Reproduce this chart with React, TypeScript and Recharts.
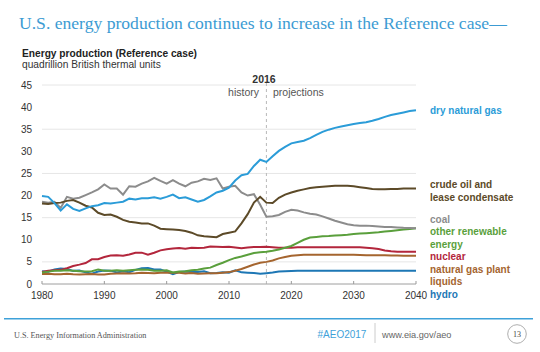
import React from 'react';
import { LineChart, Line, XAxis, YAxis, CartesianGrid, ReferenceLine } from 'recharts';

const years = [
  1980, 1981, 1982, 1983, 1984, 1985, 1986, 1987, 1988, 1989,
  1990, 1991, 1992, 1993, 1994, 1995, 1996, 1997, 1998, 1999,
  2000, 2001, 2002, 2003, 2004, 2005, 2006, 2007, 2008, 2009,
  2010, 2011, 2012, 2013, 2014, 2015, 2016, 2017, 2018, 2019,
  2020, 2021, 2022, 2023, 2024, 2025, 2026, 2027, 2028, 2029,
  2030, 2031, 2032, 2033, 2034, 2035, 2036, 2037, 2038, 2039, 2040,
];

const dryNaturalGas = [
  19.9, 19.7, 18.3, 16.6, 18.0, 17.0, 16.5, 17.1, 17.6, 17.8,
  18.3, 18.2, 18.4, 18.6, 19.3, 19.1, 19.4, 19.4, 19.6, 19.3,
  19.7, 20.2, 19.4, 19.6, 19.1, 18.6, 19.0, 19.8, 20.7, 21.1,
  21.8, 23.4, 24.6, 24.9, 26.7, 28.1, 27.6, 28.9, 30.1, 31.0,
  31.8, 32.1, 32.4, 33.0, 33.7, 34.4, 34.9, 35.3, 35.6, 35.9,
  36.2, 36.4, 36.6, 36.9, 37.3, 37.8, 38.2, 38.5, 38.8, 39.1, 39.3,
];

const crudeOil = [
  18.2, 18.1, 18.3, 18.4, 18.8, 19.0, 18.4, 17.7, 17.3, 16.1,
  15.6, 15.7, 15.2, 14.5, 14.1, 13.9, 13.7, 13.7, 13.2, 12.5,
  12.4, 12.3, 12.2, 12.0, 11.6, 11.0, 10.8, 10.7, 10.6, 11.3,
  11.6, 11.9, 13.7, 15.8, 18.4, 19.7, 18.4, 18.3, 19.5, 20.2,
  20.7, 21.1, 21.4, 21.7, 21.9, 22.0, 22.1, 22.2, 22.2, 22.2,
  22.1, 21.9, 21.7, 21.5, 21.4, 21.4, 21.5, 21.5, 21.6, 21.6, 21.6,
];

const coal = [
  18.6, 18.4, 18.6, 17.2, 19.7, 19.3, 19.5, 20.1, 20.7, 21.4,
  22.5, 21.6, 21.6, 20.2, 22.1, 22.0, 22.7, 23.2, 24.0, 23.3,
  22.7, 23.5, 22.7, 22.1, 22.9, 23.2, 23.8, 23.5, 23.9, 21.6,
  22.0, 22.2, 20.7, 20.0, 20.3, 17.9, 15.2, 15.3, 15.6, 16.3,
  16.8, 16.6, 16.2, 15.9, 15.7, 15.3, 14.8, 14.3, 13.9, 13.5,
  13.3, 13.2, 13.2, 13.1, 13.0, 12.9, 12.9, 12.8, 12.7, 12.65, 12.6,
];

const otherRenewable = [
  2.6, 2.8, 3.0, 3.0, 3.1, 3.0, 2.9, 2.8, 2.9, 3.3,
  3.0, 3.0, 3.1, 3.0, 3.1, 3.2, 3.3, 3.2, 3.0, 3.0,
  3.1, 2.6, 2.8, 2.9, 3.1, 3.2, 3.5, 3.7, 4.3, 4.8,
  5.4, 5.9, 6.2, 6.6, 7.0, 7.2, 7.3, 7.5, 7.8, 8.2,
  8.6, 9.3, 10.0, 10.5, 10.65, 10.8, 10.85, 10.95, 11.05, 11.15,
  11.3, 11.4, 11.5, 11.6, 11.7, 11.85, 12.0, 12.15, 12.3, 12.45, 12.6,
];

const nuclear = [
  2.74, 3.01, 3.13, 3.2, 3.55, 4.08, 4.38, 4.75, 5.59, 5.6,
  6.1, 6.42, 6.48, 6.41, 6.69, 7.08, 7.09, 6.6, 7.07, 7.61,
  7.86, 8.03, 8.14, 7.96, 8.22, 8.16, 8.21, 8.46, 8.43, 8.36,
  8.43, 8.27, 8.06, 8.27, 8.34, 8.34, 8.43, 8.3, 8.2, 8.2,
  8.2, 8.3, 8.3, 8.3, 8.3, 8.3, 8.3, 8.3, 8.3, 8.3,
  8.3, 8.3, 8.2, 8.1, 7.9, 7.6, 7.4, 7.3, 7.3, 7.3, 7.3,
];

const naturalGasPlantLiquids = [
  2.25, 2.3, 2.2, 2.2, 2.3, 2.2, 2.15, 2.2, 2.26, 2.16,
  2.17, 2.3, 2.36, 2.41, 2.39, 2.44, 2.53, 2.5, 2.42, 2.53,
  2.61, 2.55, 2.56, 2.35, 2.47, 2.33, 2.36, 2.41, 2.42, 2.57,
  2.69, 3.0, 3.4, 3.9, 4.4, 4.8, 5.0, 5.3, 5.8, 6.1,
  6.4, 6.5, 6.6, 6.6, 6.6, 6.6, 6.6, 6.6, 6.6, 6.6,
  6.6, 6.55, 6.5, 6.5, 6.5, 6.5, 6.45, 6.45, 6.4, 6.4, 6.4,
];

const hydro = [
  2.9, 2.76, 3.27, 3.53, 3.39, 2.97, 3.07, 2.63, 2.33, 2.84,
  3.05, 3.02, 2.62, 2.89, 2.68, 3.2, 3.59, 3.64, 3.3, 3.27,
  2.81, 2.24, 2.69, 2.83, 2.69, 2.7, 2.87, 2.45, 2.51, 2.67,
  2.54, 3.1, 2.63, 2.56, 2.47, 2.32, 2.45, 2.6, 2.8, 2.9,
  2.95, 2.97, 2.98, 2.99, 3.0, 3.0, 3.0, 3.0, 3.0, 3.0,
  3.0, 3.0, 3.0, 3.0, 3.0, 3.0, 3.0, 3.0, 3.0, 3.0, 3.0,
];

const yTicks = [0, 5, 10, 15, 20, 25, 30, 35, 40, 45];
const xTicks = [1980, 1990, 2000, 2010, 2020, 2030, 2040];
const lastHistoryYear = 2016;

const data = years.map((year, i) => ({
  year,
  gas: dryNaturalGas[i],
  crude: crudeOil[i],
  coal: coal[i],
  renew: otherRenewable[i],
  nuclear: nuclear[i],
  ngpl: naturalGasPlantLiquids[i],
  hydro: hydro[i],
}));

const C = {
  gas: '#2b9cd8',
  crude: '#5c4a28',
  coal: '#8c8c8c',
  renew: '#5a9f3c',
  nuclear: '#b3263c',
  ngpl: '#a5652f',
  hydro: '#1d77b5',
};

const sans = 'Arial, "Liberation Sans", sans-serif';
const serif = '"Liberation Serif", "Times New Roman", serif';

const XTick = (props: any) => {
  const { x, y, payload } = props;
  return (
    <g>
      <line x1={x} x2={x} y1={y - 11} y2={y - 8} stroke="#999" strokeWidth={1} />
      <text x={x} y={y} dy="0.71em" textAnchor="middle" fontSize={10} fontFamily={sans} fill="#333">
        {payload.value}
      </text>
    </g>
  );
};

const rightLabels: { lines: string[]; color: string; top: number }[] = [
  { lines: ['dry natural gas'], color: C.gas, top: 113.5 },
  { lines: ['crude oil and', 'lease condensate'], color: C.crude, top: 188 },
  { lines: ['coal'], color: C.coal, top: 222.5 },
  { lines: ['other renewable', 'energy'], color: C.renew, top: 235 },
  { lines: ['nuclear'], color: C.nuclear, top: 260 },
  { lines: ['natural gas plant', 'liquids'], color: C.ngpl, top: 272.5 },
  { lines: ['hydro'], color: C.hydro, top: 297.5 },
];

export default function App() {
  return (
    <div style={{ position: 'absolute', left: 0, top: 0, width: 540, height: 352, background: '#fff' }}>
      <div style={{ position: 'absolute', left: 0, top: 0 }}>
        <LineChart
          width={540}
          height={352}
          data={data}
          margin={{ top: 85, right: 124, bottom: 38, left: 2 }}
        >
          <CartesianGrid vertical={false} stroke="#e6e6e6" strokeWidth={1} />
          <XAxis
            dataKey="year"
            type="number"
            domain={[1980, 2040]}
            ticks={xTicks}
            tickSize={0}
            tickMargin={8}
            height={30}
            axisLine={{ stroke: '#aaa' }}
            tickLine={false}
            tick={<XTick />}
          />
          <YAxis
            type="number"
            domain={[0, 45]}
            ticks={yTicks}
            width={40}
            tickSize={0}
            tickMargin={10}
            axisLine={false}
            tickLine={false}
            tick={{ fontSize: 10, fontFamily: sans, fill: '#333' }}
          />
          <ReferenceLine
            segment={[{ x: lastHistoryYear, y: 0 }, { x: lastHistoryYear, y: 46.2 }]}
            stroke="#b8b8b8"
            strokeDasharray="3 3"
            ifOverflow="visible"
          />
          <Line dataKey="hydro" stroke={C.hydro} strokeWidth={2} dot={false} isAnimationActive={false} />
          <Line dataKey="ngpl" stroke={C.ngpl} strokeWidth={2} dot={false} isAnimationActive={false} />
          <Line dataKey="nuclear" stroke={C.nuclear} strokeWidth={2} dot={false} isAnimationActive={false} />
          <Line dataKey="renew" stroke={C.renew} strokeWidth={2} dot={false} isAnimationActive={false} />
          <Line dataKey="coal" stroke={C.coal} strokeWidth={2} dot={false} isAnimationActive={false} />
          <Line dataKey="crude" stroke={C.crude} strokeWidth={2} dot={false} isAnimationActive={false} />
          <Line dataKey="gas" stroke={C.gas} strokeWidth={2} dot={false} isAnimationActive={false} />
        </LineChart>
      </div>
      <svg
        width={540}
        height={352}
        style={{ position: 'absolute', left: 0, top: 0, pointerEvents: 'none' }}
      >
        <text x={19} y={28.5} fontFamily={serif} fontSize={17.6} fill="#3c9bd3">
          U.S. energy production continues to increase in the Reference case—
        </text>
        <text x={22} y={57} fontFamily={sans} fontSize={10.2} fontWeight="bold" fill="#222">
          Energy production (Reference case)
        </text>
        <text x={22} y={68} fontFamily={sans} fontSize={10.2} fill="#333">
          quadrillion British thermal units
        </text>
        <text x={264} y={83} fontFamily={sans} fontSize={10.5} fontWeight="bold" fill="#333" textAnchor="middle">
          2016
        </text>
        <text x={259} y={96} fontFamily={sans} fontSize={10.5} fill="#555" textAnchor="end">
          history
        </text>
        <text x={273} y={96} fontFamily={sans} fontSize={10.5} fill="#555">
          projections
        </text>
        {rightLabels.map((l) =>
          l.lines.map((s, j) => (
            <text
              key={s}
              x={430}
              y={l.top + j * 12.5}
              fontFamily={sans}
              fontSize={10}
              fontWeight="bold"
              fill={l.color}
            >
              {s}
            </text>
          ))
        )}
        <line x1={4} x2={533} y1={318.8} y2={318.8} stroke="#3ea1d9" strokeWidth={1.5} />
        <text x={14} y={337.5} fontFamily={serif} fontSize={8.2} fill="#555">
          U.S. Energy Information Administration
        </text>
        <text x={317.5} y={338} fontFamily={sans} fontSize={10} fill="#3ea1d9">
          #AEO2017
        </text>
        <line x1={375} x2={375} y1={323} y2={343} stroke="#ccc" strokeWidth={1} />
        <text x={382} y={338} fontFamily={sans} fontSize={9.2} fill="#666">
          www.eia.gov/aeo
        </text>
        <circle cx={517} cy={334} r={9.3} fill="none" stroke="#999" strokeWidth={0.8} />
        <text x={517} y={337} fontFamily={serif} fontSize={8} fill="#444" textAnchor="middle">
          13
        </text>
      </svg>
    </div>
  );
}
